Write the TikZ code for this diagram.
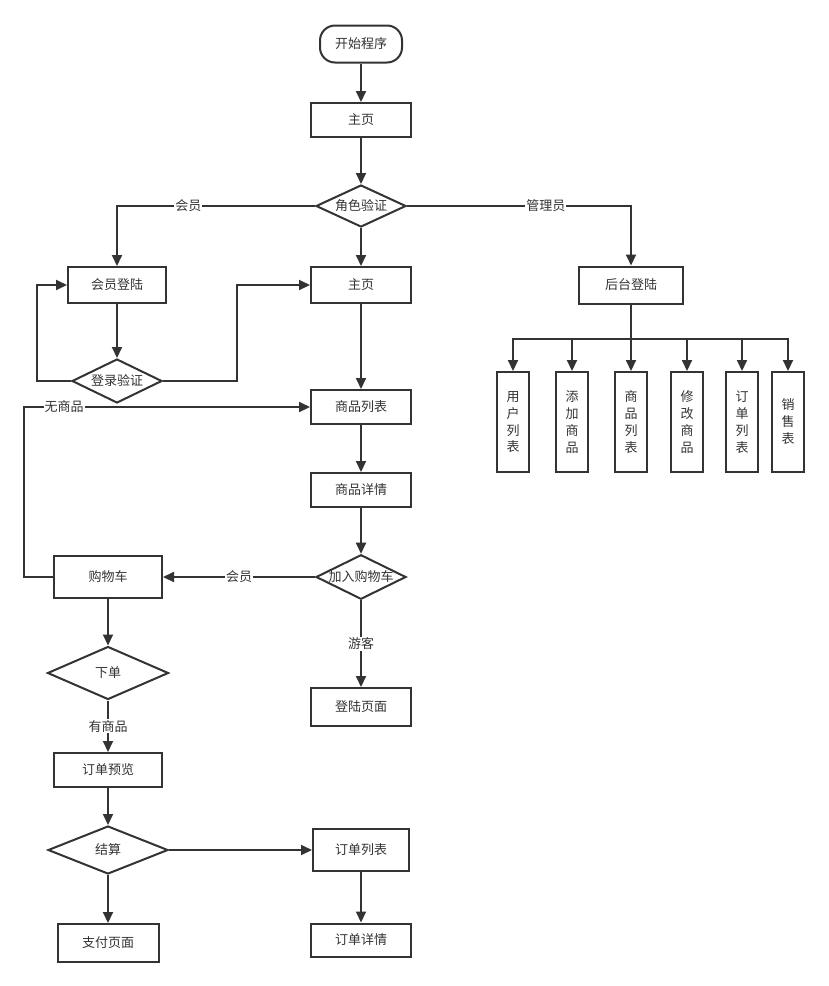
\documentclass[tikz,border=0pt]{standalone}
\usepackage{fontspec}
\setmainfont{Noto Sans CJK SC}
\usetikzlibrary{arrows.meta,shapes.geometric}
\definecolor{ink}{HTML}{333333}

\begin{document}
\begin{tikzpicture}[x=1pt,y=-1pt,
  every node/.style={font=\fontsize{13}{17}\selectfont,text=ink},
  box/.style={draw=ink,line width=2pt,minimum width=100pt,minimum height=34pt,inner sep=0pt},
  vbox/.style={box,minimum width=32pt,minimum height=100pt,align=center},
  dia/.style={diamond,draw=ink,line width=2pt,aspect=2,inner sep=0pt,minimum width=90pt,minimum height=44pt},
  arr/.style={draw=ink,line width=2pt,-{Triangle[length=11pt,width=10pt]}},
  lbl/.style={fill=white,inner sep=1pt}]
  \useasboundingbox (0,0) rectangle (829,986);
  \node[box,rounded corners=15pt,minimum width=82pt,minimum height=37pt] (start) at (361,44) {开始程序};
  \node[box] (home1) at (361,120) {主页};
  \node[dia,minimum height=42pt] (role) at (361,206) {角色验证};
  \node[box,minimum width=98pt,minimum height=36pt] (mlogin) at (117,285) {会员登陆};
  \node[box,minimum height=36pt] (home2) at (361,285) {主页};
  \node[dia] (check) at (117,381) {登录验证};
  \node[box] (goods) at (361,407) {商品列表};
  \node[box] (detail) at (361,490) {商品详情};
  \node[dia] (addcart) at (361,577) {加入购物车};
  \node[box,minimum width=108pt,minimum height=42pt] (cart) at (108,577) {购物车};
  \node[box,minimum height=38pt] (loginpage) at (361,707) {登陆页面};
  \node[dia,minimum width=121pt,minimum height=53pt] (order) at (108,673) {下单};
  \node[box,minimum width=108pt] (preview) at (108,770) {订单预览};
  \node[dia,minimum width=120pt,minimum height=48pt] (settle) at (108,850) {结算};
  \node[box,minimum width=96pt,minimum height=42pt] (olist) at (361,850) {订单列表};
  \node[box,minimum width=101pt,minimum height=38pt] (pay) at (108,943) {支付页面};
  \node[box,minimum height=33pt] (odetail) at (361,940) {订单详情};
  \node[box,minimum width=104pt,minimum height=37pt] (admin) at (631,285) {后台登陆};
  \node[vbox] (a1) at (513,422) {用\\户\\列\\表};
  \node[vbox] (a2) at (572,422) {添\\加\\商\\品};
  \node[vbox] (a3) at (631,422) {商\\品\\列\\表};
  \node[vbox] (a4) at (687,422) {修\\改\\商\\品};
  \node[vbox] (a5) at (742,422) {订\\单\\列\\表};
  \node[vbox] (a6) at (788,422) {销\\售\\表};
  \draw[arr] (start) -- (home1);
  \draw[arr] (home1) -- (role);
  \draw[arr] (role) -| node[lbl,pos=0.32] {会员} (mlogin);
  \draw[arr] (role) -| node[lbl,pos=0.31] {管理员} (admin);
  \draw[arr] (role) -- (home2);
  \draw[arr] (mlogin) -- (check);
  \draw[arr] (check.west) -- ++(-34,0) |- (mlogin.west);
  \draw[arr] (check.east) -- ++(74,0) |- (home2.west);
  \draw[arr] (home2) -- (goods);
  \draw[arr] (goods) -- (detail);
  \draw[arr] (detail) -- (addcart);
  \draw[arr] (addcart) -- node[lbl] {会员} (cart);
  \draw[arr] (addcart) -- node[lbl] {游客} (loginpage);
  \draw[arr] (cart.west) -- ++(-29,0) |- node[lbl,pos=0.57] {无商品} (goods.west);
  \draw[arr] (cart) -- (order);
  \draw[arr] (order) -- node[lbl] {有商品} (preview);
  \draw[arr] (preview) -- (settle);
  \draw[arr] (settle) -- (pay);
  \draw[arr] (settle) -- (olist);
  \draw[arr] (olist) -- (odetail);
  \foreach \n in {a1,a2,a3,a4,a5,a6}
    \draw[arr] (admin.south) -- ++(0,34) -| (\n.north);
\end{tikzpicture}
\end{document}
